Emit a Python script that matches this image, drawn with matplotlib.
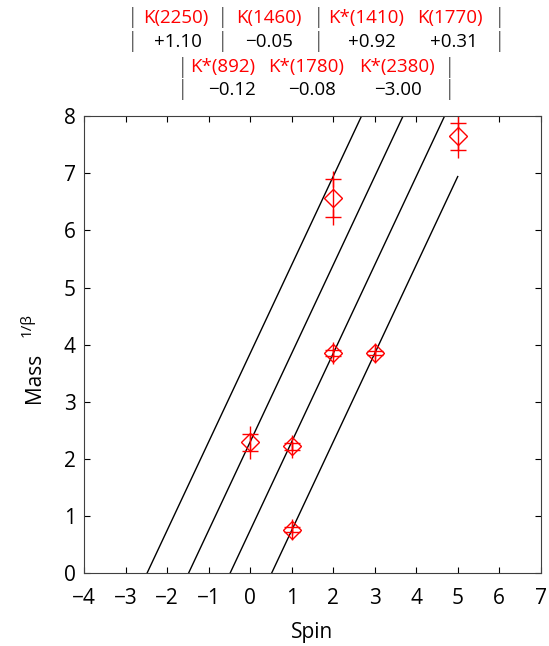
import numpy as np
import matplotlib.pyplot as plt

plt.rcParams['font.family'] = ['Open Sans', 'DejaVu Sans']

# data points (spin, mass^(1/beta), error)
spin = [0, 1, 1, 2, 3, 2, 5]
mass = [2.29, 2.22, 0.76, 3.85, 3.85, 6.57, 7.65]
err = [0.15, 0.06, 0.04, 0.05, 0.04, 0.33, 0.24]

# parallel trajectories: y = slope * (x - x0)
slope = 1.55
x0 = [-2.48, -1.48, -0.48, 0.52]
x_end = [2.68, 3.68, 4.68, 5.0]

# annotation rows above the plot
row1_labels = ["K(2250)", "K(1460)", "K*(1410)", "K(1770)"]
row1_vals = ["+1.10", "\u22120.05", "+0.92", "+0.31"]
row2_labels = ["K*(892)", "K*(1780)", "K*(2380)"]
row2_vals = ["\u22120.12", "\u22120.08", "\u22123.00"]

fig = plt.figure(figsize=(5.49, 6.46), dpi=100)
ax = fig.add_axes([0.153, 0.113, 0.832, 0.707])

for a, b in zip(x0, x_end):
    xs = np.array([a, b])
    ax.plot(xs, slope * (xs - a), color='black', lw=1.0)

spin = np.array(spin)
mass = np.array(mass)
err = np.array(err)
ax.errorbar(spin, mass, yerr=err, fmt='none', ecolor='red', elinewidth=1.0)
ax.plot(spin, mass + err, '+', color='red', ms=11, mew=1.0)
ax.plot(spin, mass - err, '+', color='red', ms=11, mew=1.0)
ax.plot(spin, mass, 'D', mfc='none', mec='red', ms=9, mew=1.0)

ax.set_xlim(-4, 7)
ax.set_ylim(0, 8)
ax.set_xticks(range(-4, 8))
ax.set_yticks(range(0, 9))
ax.tick_params(direction='in', top=True, right=True, length=4, labelsize=15)
ax.tick_params(axis='x', pad=11)
ax.tick_params(axis='y', pad=6)
for s in ax.spines.values():
    s.set_color('#404040')
ax.set_xlabel("Spin", fontsize=15, labelpad=9)

fig.text(35 / 549, 1 - 378 / 646, "Mass", rotation=90, fontsize=15,
         ha='center', va='center')
fig.text(27 / 549, 1 - 325 / 646, "1/\u03b2", rotation=90, fontsize=11,
         ha='center', va='center')

W, H = 549, 646
fs = 13.5
bar = dict(color='#666666', fontsize=15, ha='center', va='center')

def put(x, y, s, **kw):
    fig.text(x / W, 1 - y / H, s, **kw)

for x in [133, 223, 319, 500]:
    put(x, 18, "|", **bar)
    put(x, 42, "|", **bar)
for x in [183, 450]:
    put(x, 67, "|", **bar)
    put(x, 90, "|", **bar)

for x, s in zip([176, 269, 366, 450], row1_labels):
    put(x, 18, s, color='red', fontsize=fs, ha='center', va='center')
for x, s in zip([178, 269, 372, 454], row1_vals):
    put(x, 42, s, color='black', fontsize=fs, ha='center', va='center')
for x, s in zip([223, 306, 397], row2_labels):
    put(x, 67, s, color='red', fontsize=fs, ha='center', va='center')
for x, s in zip([232, 312, 398], row2_vals):
    put(x, 90, s, color='black', fontsize=fs, ha='center', va='center')

fig.savefig("out.png", dpi=100)
